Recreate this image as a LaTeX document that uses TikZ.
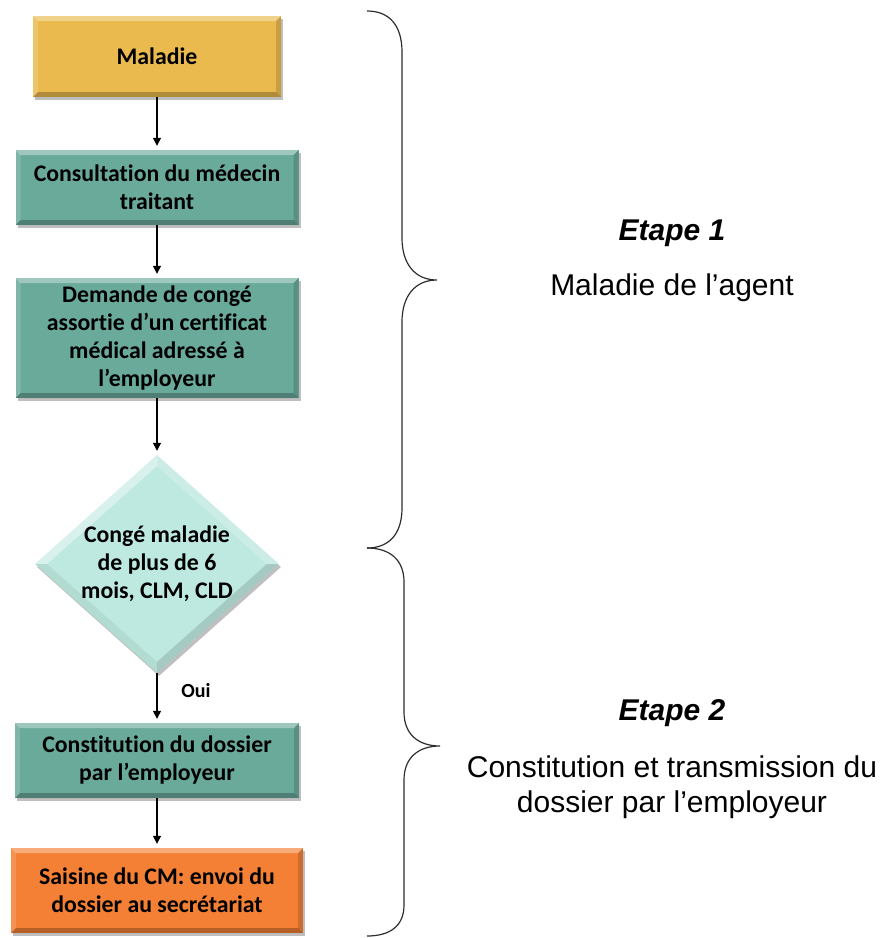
\documentclass[tikz,border=0pt]{standalone}
\usepackage{fontspec}
\newfontfamily\calibri[Ligatures=NoCommon]{Carlito}
\newfontfamily\arial{Liberation Sans}
\usetikzlibrary{arrows.meta,shapes.geometric,shadows}

\definecolor{goldfill}{RGB}{234,186,78}
\definecolor{tealfill}{RGB}{106,170,155}
\definecolor{aquafill}{RGB}{190,233,224}
\definecolor{orangefill}{RGB}{243,128,52}
\definecolor{bracegray}{RGB}{45,45,45}

\begin{document}
\begin{tikzpicture}[x=1pt,y=-1pt,
  boxtext/.style={font=\calibri\bfseries\fontsize{23.8}{28}\selectfont, align=center, text=black},
  % bevelled edges of a rectangular box: light top/left, dark bottom/right
  rectbevel/.style={path picture={
    \fill[white,opacity=.35] (path picture bounding box.north west) -- (path picture bounding box.north east)
      -- ([shift={(-5pt,-5pt)}]path picture bounding box.north east) -- ([shift={(5pt,-5pt)}]path picture bounding box.north west) -- cycle;
    \fill[white,opacity=.15] (path picture bounding box.north west) -- ([shift={(5pt,-5pt)}]path picture bounding box.north west)
      -- ([shift={(5pt,5pt)}]path picture bounding box.south west) -- (path picture bounding box.south west) -- cycle;
    \fill[black,opacity=.15] (path picture bounding box.north east) -- ([shift={(-5pt,-5pt)}]path picture bounding box.north east)
      -- ([shift={(-5pt,5pt)}]path picture bounding box.south east) -- (path picture bounding box.south east) -- cycle;
    \fill[black,opacity=.25] (path picture bounding box.south west) -- (path picture bounding box.south east)
      -- ([shift={(-5pt,5pt)}]path picture bounding box.south east) -- ([shift={(5pt,5pt)}]path picture bounding box.south west) -- cycle;
  }},
  % bevelled facets of the decision diamond
  diabevel/.style={path picture={
    \fill[white,opacity=.40] (path picture bounding box.west) -- (path picture bounding box.north)
      -- ([yshift=-11pt]path picture bounding box.north) -- ([xshift=12pt]path picture bounding box.west) -- cycle;
    \fill[white,opacity=.22] (path picture bounding box.north) -- (path picture bounding box.east)
      -- ([xshift=-12pt]path picture bounding box.east) -- ([yshift=-11pt]path picture bounding box.north) -- cycle;
    \fill[black,opacity=.13] (path picture bounding box.east) -- (path picture bounding box.south)
      -- ([yshift=11pt]path picture bounding box.south) -- ([xshift=-12pt]path picture bounding box.east) -- cycle;
    \fill[black,opacity=.06] (path picture bounding box.south) -- (path picture bounding box.west)
      -- ([xshift=12pt]path picture bounding box.west) -- ([yshift=11pt]path picture bounding box.south) -- cycle;
  }},
  softshadow/.style={drop shadow={shadow xshift=2pt,shadow yshift=-3pt,fill=black,opacity=.25}},
  stepbox/.style={boxtext, rectangle, inner sep=0pt, softshadow, rectbevel},
  decision/.style={boxtext, diamond, aspect=1.12, inner xsep=-10pt, inner ysep=0pt,
    minimum width=244pt, minimum height=218pt, fill=aquafill, softshadow, diabevel},
  arr/.style={-{Triangle[length=8pt,width=8pt]}, line width=1.3pt, shorten >=4pt},
  brace/.style={draw=bracegray, line width=1.2pt},
  stagehead/.style={font=\arial\bfseries\itshape\fontsize{30}{35}\selectfont, align=center},
  stagetext/.style={font=\arial\fontsize{30}{35}\selectfont, align=center},
  labeltext/.style={font=\calibri\bfseries\fontsize{20}{24}\selectfont}
]
\useasboundingbox (0,0) rectangle (888,938);

% flow chart
\node[stepbox, fill=goldfill, minimum width=248pt, minimum height=81pt] (maladie) at (157,56.5) {Maladie};
\node[stepbox, fill=tealfill, minimum width=283pt, minimum height=75pt] (consult) at (157,187.5) {Consultation du médecin\\traitant};
\node[stepbox, fill=tealfill, minimum width=283pt, minimum height=120pt] (demande) at (157,338) {Demande de congé\\assortie d’un certificat\\médical adressé à\\l’employeur};
\node[decision] (conge) at (157,564) {Congé maladie\\de plus de 6\\mois, CLM, CLD};
\node[stepbox, fill=tealfill, minimum width=284pt, minimum height=75pt] (dossier) at (157,760.5) {Constitution du dossier\\par l’employeur};
\node[stepbox, fill=orangefill, minimum width=292pt, minimum height=85pt] (saisine) at (157,890.5) {Saisine du CM: envoi du\\dossier au secrétariat};

\draw[arr] (maladie) -- (consult);
\draw[arr] (consult) -- (demande);
\draw[arr] (demande) -- (conge);
\draw[arr] (conge) -- (dossier);
\draw[arr] (dossier) -- (saisine);
\node[labeltext] (oui) at (196,691) {Oui};

% braces grouping the two stages
\draw[brace] (367,11) .. controls (389,11) and (402,25) .. (402,52) -- (402,238)
  .. controls (402,264) and (415,280) .. (437,280)
  .. controls (415,280) and (402,296) .. (402,322) -- (402,508)
  .. controls (402,534) and (389,548) .. (367,548);
\draw[brace] (367,548) .. controls (390,548) and (404,560) .. (404,582) -- (404,712)
  .. controls (404,734) and (418,746) .. (440,746)
  .. controls (418,746) and (404,758) .. (404,780) -- (404,905)
  .. controls (404,926) and (390,936) .. (367,936);

% stage captions
\node[stagehead, anchor=base] (etape1) at (672,240) {Etape 1};
\node[stagetext, anchor=base] (agent) at (672,295) {Maladie de l’agent};
\node[stagehead, anchor=base] (etape2) at (672,720) {Etape 2};
\node[stagetext, anchor=base] (transm) at (672,812) {Constitution et transmission du\\dossier par l’employeur};
\end{tikzpicture}
\end{document}
